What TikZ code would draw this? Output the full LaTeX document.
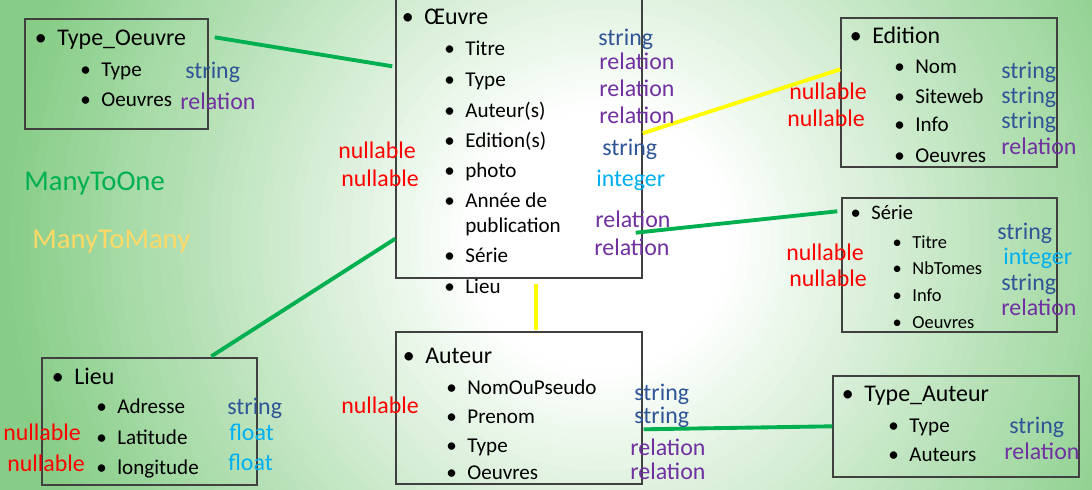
\documentclass[tikz,border=0pt]{standalone}
\usepackage{fontspec}
\setmainfont{Carlito}
\usepackage{xcolor}
\usepackage{tikz}
\usetikzlibrary{fit,calc}
\definecolor{bggreen}{RGB}{135,205,135}
\definecolor{kstring}{RGB}{47,85,151}
\definecolor{krelation}{RGB}{112,48,160}
\definecolor{kinteger}{RGB}{0,176,240}
\definecolor{kfloat}{RGB}{0,176,240}
\definecolor{knullable}{RGB}{255,0,0}
\definecolor{mtogreen}{RGB}{0,176,80}
\definecolor{mtmyellow}{RGB}{255,255,0}
\definecolor{mtmlegend}{RGB}{255,217,102}
\newcommand{\erbullet}{\llap{\textbullet\hspace{6pt}}}

\begin{document}
\begin{tikzpicture}[x=0.02cm, y=-0.02cm,
  entity/.style={draw=black!75, line width=0.8pt, inner sep=0pt},
  enttitle/.style={anchor=base west, inner sep=0pt, font=\fontsize{13.6}{16}\selectfont},
  attr/.style={anchor=base west, inner sep=0pt, font=\fontsize{12}{14}\selectfont},
  attrsmall/.style={anchor=base west, inner sep=0pt, font=\fontsize{10.5}{12}\selectfont},
  kind/.style={anchor=base west, inner sep=0pt, font=\fontsize{13.6}{16}\selectfont, text=k#1},
  legendtxt/.style={anchor=base west, inner sep=0pt, font=\fontsize{16.3}{19}\selectfont},
  mto/.style={line width=2.2pt, mtogreen},
  mtm/.style={line width=2.2pt, mtmyellow}
]
\useasboundingbox (0,0) rectangle (1092,490);
% background glow
\begin{scope}
  \clip (0,0) rectangle (1092,490);
  \fill[bggreen] (0,0) rectangle (1092,490);
  \foreach \k in {0,...,49} {
    \pgfmathsetmacro{\rcm}{0.02*(600-10*\k)}
    \pgfmathsetmacro{\pp}{max(0,(600-10*\k-131)/4.69)}
    \fill[bggreen!\pp!white] (600,240) circle [radius=\rcm cm];
  }
\end{scope}

% entities
\node[entity, fit={(25,19) (208,129)}] (typeoeuvre) {};
\node[entity, fit={(396,-2) (642,278)}] (oeuvre) {};
\node[entity, fit={(841,18) (1057,167)}] (edition) {};
\node[entity, fit={(842,198) (1057,332)}] (serie) {};
\node[entity, fit={(42,358) (257,485)}] (lieu) {};
\node[entity, fit={(396,332) (642,484)}] (auteur) {};
\node[entity, fit={(833,376) (1079,477)}] (typeauteur) {};

% relations
\draw[mto] ($(typeoeuvre.north east)+(6,19)$) -- ($(oeuvre.north west)+(-3,69)$);
\draw[mto] ($(lieu.north west)+(170,-1)$) -- ($(oeuvre.south west)+(0,-40)$);
\draw[mto] ($(oeuvre.south east)+(-7,-46)$) -- ($(serie.north west)+(-4,14)$);
\draw[mto] ($(auteur.north east)+(1,98)$) -- ($(typeauteur.north west)+(0,51)$);
\draw[mtm] ($(oeuvre.north east)+(0,136)$) -- ($(edition.north west)+(0,52)$);
\draw[mtm] ($(oeuvre.south west)+(141,5)$) -- ($(auteur.north west)+(141,-1)$);

% titles
\node[enttitle] (typeoeuvre-t) at (57,45) {\erbullet Type\_Oeuvre};
\node[enttitle] (oeuvre-t) at (424,25) {\erbullet Œuvre};
\node[enttitle] (edition-t) at (872,43) {\erbullet Edition};
\node[enttitle, font=\fontsize{11.7}{14}\selectfont] (serie-t) at (871,219) {\erbullet Série};
\node[enttitle] (lieu-t) at (74,384) {\erbullet Lieu};
\node[enttitle] (auteur-t) at (425,363) {\erbullet Auteur};
\node[enttitle] (typeauteur-t) at (864,401) {\erbullet Type\_Auteur};

% attributes
\foreach \txt/\yy [count=\i] in {Type/76, Oeuvres/106}
  \node[attr] (typeoeuvre-a\i) at (101,\yy) {\erbullet\txt};
\foreach \txt/\yy [count=\i] in {Titre/55, Type/86, Auteur(s)/117, Edition(s)/147, photo/177, Année de/207, Série/262, Lieu/293}
  \node[attr] (oeuvre-a\i) at (465,\yy) {\erbullet\txt};
\node[attr] (oeuvre-a9) at (465,232) {publication};
\foreach \txt/\yy [count=\i] in {Nom/73, Siteweb/103, Info/131, Oeuvres/162}
  \node[attr] (edition-a\i) at (915,\yy) {\erbullet\txt};
\foreach \txt/\yy [count=\i] in {Titre/248, NbTomes/274, Info/301, Oeuvres/328}
  \node[attrsmall] (serie-a\i) at (912,\yy) {\erbullet\txt};
\foreach \txt/\yy [count=\i] in {Adresse/413, Latitude/444, longitude/474}
  \node[attr] (lieu-a\i) at (117,\yy) {\erbullet\txt};
\foreach \txt/\yy [count=\i] in {NomOuPseudo/394, Prenom/423, Type/452, Oeuvres/479}
  \node[attr] (auteur-a\i) at (467,\yy) {\erbullet\txt};
\foreach \txt/\yy [count=\i] in {Type/432, Auteurs/461}
  \node[attr] (typeauteur-a\i) at (909,\yy) {\erbullet\txt};

% types
\foreach \xx/\yy/\kname [count=\i] in {185/78/string, 180/109/relation,
    598/45/string, 599/69/relation, 599/96/relation, 599/123/relation,
    602/155/string, 596/186/integer, 595/227/relation, 594/255/relation,
    338/158/nullable, 341/186/nullable,
    1001/78/string, 1001/103/string, 1001/128/string, 1001/154/relation,
    789/99/nullable, 787/126/nullable,
    997/239/string, 1003/264/integer, 1001/290/string, 1001/315/relation,
    786/260/nullable, 789/286/nullable,
    227/414/string, 229/440/float, 228/470/float, 3/440/nullable, 7/471/nullable,
    634/400/string, 634/423/string, 630/455/relation, 630/479/relation, 341/413/nullable,
    1009/433/string, 1004/459/relation}
  \node[kind=\kname] (kind\i) at (\xx,\yy) {\kname};

% legend
\node[legendtxt, text=mtogreen] (legend-mto) at (24,190) {ManyToOne};
\node[legendtxt, text=mtmlegend] (legend-mtm) at (32,248) {ManyToMany};
\end{tikzpicture}
\end{document}
